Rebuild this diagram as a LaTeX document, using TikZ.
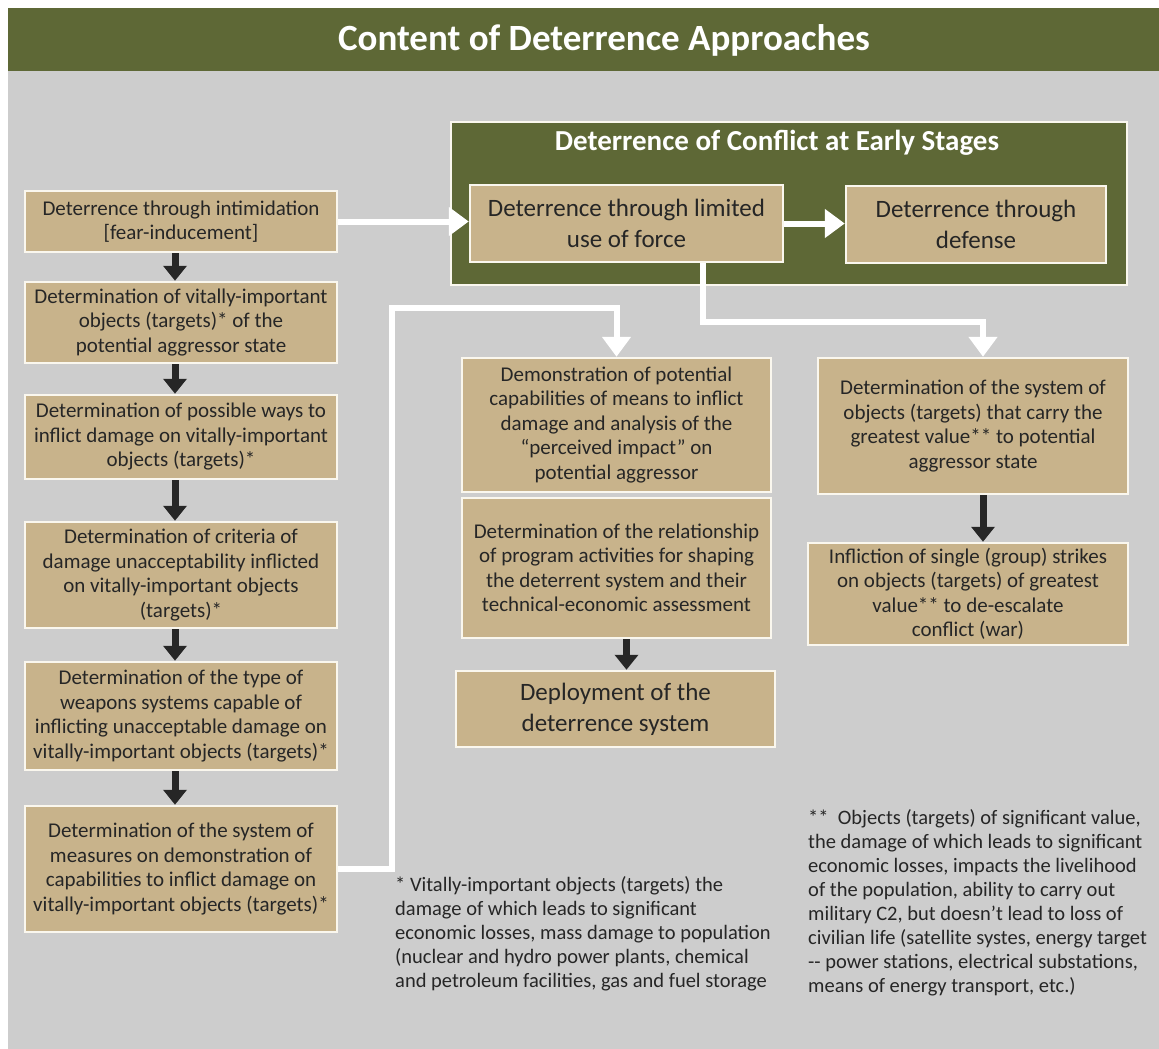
\documentclass[tikz,border=0pt]{standalone}
\usepackage{fontspec}
\setmainfont{Carlito}
\usetikzlibrary{arrows.meta}
\definecolor{armygreen}{HTML}{5E6836}
\definecolor{boxtan}{HTML}{C8B38B}
\definecolor{panelgray}{HTML}{CDCDCD}
\definecolor{inkdark}{HTML}{262626}
\definecolor{boxedge}{HTML}{FAF7EE}

\begin{document}
\begin{tikzpicture}[x=1pt, y=-1pt,
      every node/.style={font=\fontsize{21}{24.5}\selectfont, text=inkdark},
      box/.style={rectangle, draw=boxedge, line width=2.5pt, fill=boxtan, align=center, inner sep=0pt},
      leftbox/.style={box, minimum width=312pt},
      midbox/.style={box, minimum width=309pt},
      bigbox/.style={box, font=\fontsize{25}{31}\selectfont},
      frame/.style={rectangle, draw=boxedge, line width=2.5pt, fill=armygreen, minimum width=676pt, minimum height=163pt},
      heading/.style={text=white, font=\fontsize{37}{40}\selectfont\bfseries},
      subheading/.style={text=white, font=\fontsize{29}{32}\selectfont\bfseries},
      note/.style={align=left, inner sep=0pt, anchor=north west, font=\fontsize{20.5}{24}\selectfont},
      blkarrow/.style={line width=7pt, draw=inkdark, -{Triangle[width=23pt,length=15pt]}},
      wflow/.style={line width=6pt, draw=white, -{Triangle[width=28pt,length=20pt]}}
  ]
    \useasboundingbox (0,0) rectangle (1159,1049);
    \fill[panelgray] (8,8) rectangle (1159,1049);
    \fill[armygreen] (8,8) rectangle (1159,71);
    \node[heading] (title) at (604,40) {Content of Deterrence Approaches};

    % early stages panel
    \node[frame] (stages) at (789,203.5) {};
    \node[subheading] (stagestitle) at (777,143) {Deterrence of Conflict at Early Stages};
    \node[bigbox, minimum width=313pt, minimum height=77pt] (limited) at (626.5,223.5) {Deterrence through limited\\use of force};
    \node[bigbox, minimum width=260pt, minimum height=77pt] (defense) at (976,224.5) {Deterrence through\\defense};

    % left column
    \node[leftbox, minimum height=61pt] (intim) at (181,221.5) {Deterrence through intimidation\\{[}fear-inducement{]}};
    \node[leftbox, minimum height=81pt] (vital) at (181,322.5) {Determination of vitally-important\\objects (targets)* of the\\potential aggressor state};
    \node[leftbox, minimum height=84pt] (ways) at (181,437) {Determination of possible ways to\\inflict damage on vitally-important\\objects (targets)*};
    \node[leftbox, minimum height=106pt] (crit) at (181,575) {Determination of criteria of\\damage unacceptability inflicted\\on vitally-important objects\\(targets)*};
    \node[leftbox, minimum height=108pt] (weapons) at (181,716) {Determination of the type of\\weapons systems capable of\\inflicting unacceptable damage on\\vitally-important objects (targets)*};
    \node[leftbox, minimum height=126pt] (measures) at (181,869) {Determination of the system of\\measures on demonstration of\\capabilities to inflict damage on\\vitally-important objects (targets)*};

    % middle column
    \node[midbox, minimum height=134pt] (demo) at (616.5,425) {Demonstration of potential\\capabilities of means to inflict\\damage and analysis of the\\``perceived impact'' on\\potential aggressor};
    \node[midbox, minimum height=140pt] (relation) at (616.5,568) {Determination of the relationship\\of program activities for shaping\\the deterrent system and their\\technical-economic assessment};
    \node[bigbox, minimum width=319pt, minimum height=76pt] (deploy) at (615.5,709) {Deployment of the\\deterrence system};

    % right column
    \node[box, minimum width=310pt, minimum height=136pt] (value) at (973,426) {Determination of the system of\\objects (targets) that carry the\\greatest value** to potential\\aggressor state};
    \node[box, minimum width=320pt, minimum height=102pt] (strike) at (968,594) {Infliction of single (group) strikes\\on objects (targets) of greatest\\value** to de-escalate\\conflict (war)};

    % notes
    \node[note] (note1) at (395,876) {* Vitally-important objects (targets) the\\damage of which leads to significant\\economic losses, mass damage to population\\(nuclear and hydro power plants, chemical\\and petroleum facilities, gas and fuel storage};
    \node[note] (note2) at (808,809) {**~~Objects (targets) of significant value,\\the damage of which leads to significant\\economic losses, impacts the livelihood\\of the population, ability to carry out\\military C2, but doesn't lead to loss of\\civilian life (satellite systes, energy target\\-{}- power stations, electrical substations,\\means of energy transport, etc.)};

    % black arrows
    \foreach \a/\b/\s in {intim/vital/-6, vital/ways/-6, ways/crit/-6, crit/weapons/-6, weapons/measures/-6, relation/deploy/10, value/strike/10} {
      \draw[blkarrow] ([xshift=\s pt]\a.south) -- ([xshift=\s pt]\a.south |- \b.north);
    }

    % white connectors
    \coordinate (split) at (703,322);
    \coordinate (bend) at (392,308);
    \draw[wflow] (intim.east) -- (intim.east -| limited.west);
    \draw[wflow] (limited.east) -- (limited.east -| defense.west);
    \draw[wflow] (limited.south -| split) -- (split) -| ([xshift=10pt]value.north);
    \draw[wflow] (measures.east) -| (bend) -| (demo.north);
  \end{tikzpicture}
\end{document}
